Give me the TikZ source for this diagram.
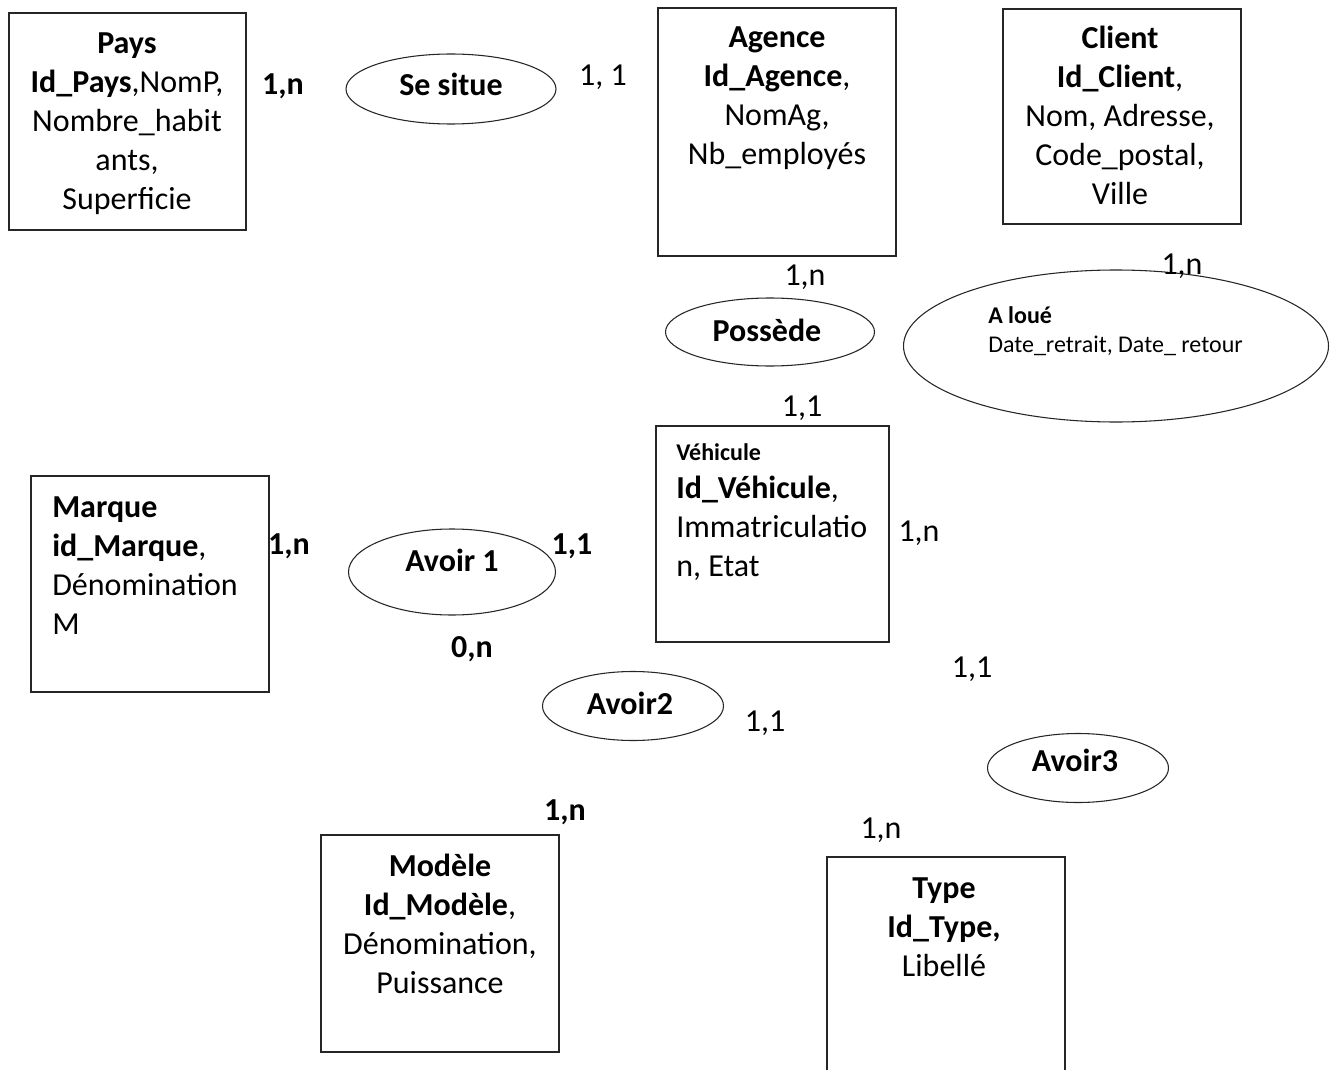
\documentclass[tikz,border=0pt]{standalone}
\usepackage{fontspec}
\setmainfont{Carlito}
\usetikzlibrary{shapes.geometric}
\begin{document}
\begin{tikzpicture}[x=0.75pt,y=-0.75pt,
  ent/.style={draw=black!85,line width=0.8pt,rectangle,inner sep=0pt},
  rel/.style={draw=black!85,line width=0.8pt,ellipse,inner sep=0pt},
  big/.style={font=\fontsize{24pt}{29.25pt}\selectfont,inner sep=0pt},
  small/.style={font=\fontsize{18pt}{22pt}\selectfont,inner sep=0pt},
  card/.style={font=\fontsize{24pt}{29.25pt}\selectfont,inner sep=0pt},
  bcard/.style={font=\fontsize{24pt}{29.25pt}\selectfont\bfseries,inner sep=0pt}]
\clip (0,0) rectangle (1335,1070);
\fill[white] (0,0) rectangle (1335,1070);
% entity boxes
\node[ent,minimum width=177.75pt,minimum height=162.75pt] (pays) at (127.5,121.5) {};
\node[ent,minimum width=178.5pt,minimum height=186pt] (agence) at (777,132) {};
\node[ent,minimum width=178.5pt,minimum height=161.25pt] (client) at (1122,116.5) {};
\node[ent,minimum width=174.75pt,minimum height=162pt] (vehicule) at (772.5,534) {};
\node[ent,minimum width=178.5pt,minimum height=162pt] (marque) at (150,584) {};
\node[ent,minimum width=178.5pt,minimum height=162.75pt] (modele) at (440,943.5) {};
\node[ent,minimum width=178.5pt,minimum height=174.75pt] (type) at (946,973.5) {};
% entity texts
\node[big,align=center] (paysT) at (127,123.5) {\textbf{Pays}\\\textbf{Id\_Pays},NomP,\\Nombre\_habit\\ants,\\Superficie};
\node[big,align=center] (agenceT) at (777,98.5) {\textbf{Agence}\\\textbf{Id\_Agence},\\NomAg,\\Nb\_employés};
\node[big,align=center] (clientT) at (1120,115.5) {\textbf{Client}\\\textbf{Id\_Client},\\Nom, Adresse,\\Code\_postal,\\Ville};
\node[small,anchor=west,font=\fontsize{18pt}{22pt}\selectfont\bfseries] (vehT1) at (676,452) {Véhicule};
\node[big,align=left,anchor=west] (vehT2) at (676,528.5) {\textbf{Id\_Véhicule},\\Immatriculatio\\n, Etat};
\node[big,align=left,anchor=west] (marqueT) at (52,565.5) {\textbf{Marque}\\\textbf{id\_Marque},\\Dénomination\\M};
\node[big,align=center] (modeleT) at (440,924) {\textbf{Modèle}\\\textbf{Id\_Modèle},\\Dénomination,\\Puissance};
\node[big,align=center] (typeT) at (944,927) {\textbf{Type}\\\textbf{Id\_Type,}\\Libellé};
% relationships
\node[rel,minimum width=157.5pt,minimum height=52.5pt] (situe) at (451,89) {};
\node[big,font=\fontsize{24pt}{29.25pt}\selectfont\bfseries] (situeT) at (451,84) {Se situe};
\node[rel,minimum width=156.75pt,minimum height=51pt] (possede) at (770,332) {};
\node[big,font=\fontsize{24pt}{29.25pt}\selectfont\bfseries] (possedeT) at (767,330) {Possède};
\node[rel,minimum width=318.75pt,minimum height=114pt] (loue) at (1116,346) {};
\node[small,align=left,anchor=west] (loueT) at (988,331) {\textbf{A loué}\\Date\_retrait, Date\_ retour};
\node[rel,minimum width=155.25pt,minimum height=64.5pt] (avoir1) at (452,572) {};
\node[big,font=\fontsize{24pt}{29.25pt}\selectfont\bfseries] (avoir1T) at (452,560) {Avoir 1};
\node[rel,minimum width=135.75pt,minimum height=51.75pt] (avoir2) at (633,706) {};
\node[big,font=\fontsize{24pt}{29.25pt}\selectfont\bfseries] (avoir2T) at (630,703) {Avoir2};
\node[rel,minimum width=135.75pt,minimum height=51.75pt] (avoir3) at (1078,768) {};
\node[big,font=\fontsize{24pt}{29.25pt}\selectfont\bfseries] (avoir3T) at (1075,760) {Avoir3};
% cardinalities
\node[bcard] (c1) at (283,86) {1,n};
\node[card] (c2) at (603,77) {1, 1};
\node[card] (c3) at (805,277) {1,n};
\node[card] (c4) at (1182,266) {1,n};
\node[card] (c5) at (802,408) {1,1};
\node[card] (c6) at (919,533) {1,n};
\node[bcard] (c7) at (289,546) {1,n};
\node[bcard] (c8) at (572,546) {1,1};
\node[bcard] (c9) at (472,649) {0,n};
\node[card] (c10) at (972,669) {1,1};
\node[card] (c11) at (765,723) {1,1};
\node[bcard] (c12) at (565,812) {1,n};
\node[card] (c13) at (881,830) {1,n};
\end{tikzpicture}
\end{document}
